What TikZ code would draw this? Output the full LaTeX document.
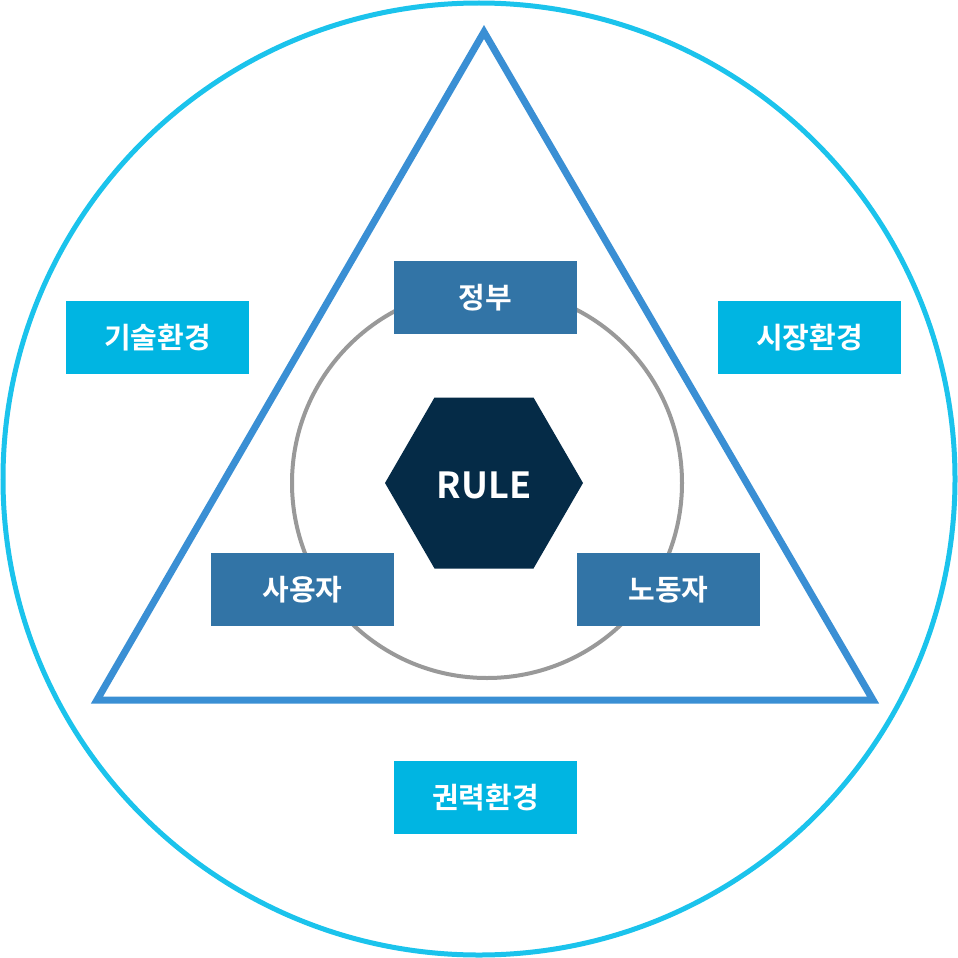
\documentclass[tikz,border=0pt]{standalone}
\usepackage{fontspec}
\setmainfont{Noto Sans CJK KR}[BoldFont={* Bold}]
\newfontfamily\kr{Noto Sans CJK KR Bold}
\definecolor{outerc}{HTML}{1BC3EC}
\definecolor{tric}{HTML}{3A8FD4}
\definecolor{grayc}{HTML}{999999}
\definecolor{darkbox}{HTML}{3274A6}
\definecolor{cyanbox}{HTML}{00B5E2}
\definecolor{hexc}{HTML}{052B47}
\begin{document}
\begin{tikzpicture}[x=1pt,y=-1pt,
  boxbase/.style={minimum width=183pt,minimum height=73pt,inner sep=0pt,text=white,font=\kr\fontsize{29}{32}\selectfont},
  actor/.style={boxbase,fill=darkbox},
  env/.style={boxbase,fill=cyanbox}]
\useasboundingbox (0,0) rectangle (958,958);
\fill[white] (0,0) rectangle (958,958);
\node[draw=outerc,line width=5pt,circle,minimum size=952pt,inner sep=0pt] (outer) at (479,479) {};
\coordinate (ta) at (484,32);
\coordinate (tl) at (97,700);
\coordinate (tr) at (873,700);
\draw[tric,line width=7pt,line join=miter] (ta) -- (tl) -- (tr) -- cycle;
\node[draw=grayc,line width=4pt,circle,minimum size=390pt,inner sep=0pt] (ring) at (487,483) {};
\fill[hexc] (583,483) -- (533.5,397.5) -- (434.5,397.5) -- (385,483) -- (434.5,568.5) -- (533.5,568.5) -- cycle;
\node[text=white,font=\kr\fontsize{36}{40}\selectfont] (rule) at (484,485) {RULE};
\node[actor] (gov) at (485.5,297.5) {정부};
\node[actor] (user) at (302.5,589.5) {사용자};
\node[actor] (labor) at (668.5,589.5) {노동자};
\node[env] (tech) at (157.5,337.5) {기술환경};
\node[env] (market) at (809.5,337.5) {시장환경};
\node[env] (power) at (485.5,797.5) {권력환경};
\end{tikzpicture}
\end{document}
